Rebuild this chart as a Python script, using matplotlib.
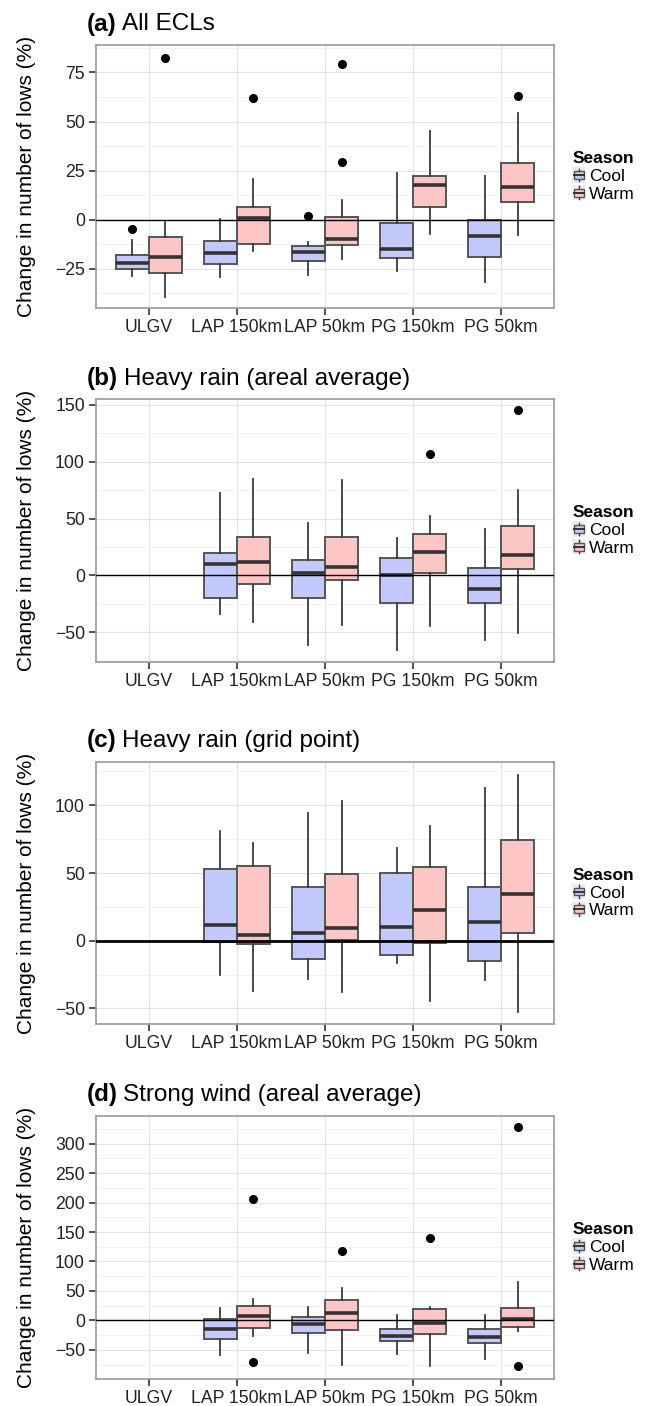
import matplotlib
matplotlib.use('Agg')
import matplotlib.pyplot as plt
from matplotlib.legend_handler import HandlerBase
from matplotlib.patches import Rectangle, Patch
from matplotlib.lines import Line2D
from matplotlib.ticker import MultipleLocator

plt.rcParams['font.family'] = ['Liberation Sans', 'DejaVu Sans']

categories = ['ULGV', 'LAP 150km', 'LAP 50km', 'PG 150km', 'PG 50km']
seasons = ['Cool', 'Warm']

# (whisker low, Q1, median, Q3, whisker high) per category, None = no data
a_cool = [(-28.7, -25.3, -22.3, -17.9, -10.2), (-29.1, -22.6, -17.0, -10.7, 0.3),
          (-28.0, -20.9, -16.7, -13.6, -11.6), (-26.0, -19.6, -15.0, -1.9, 23.6),
          (-31.6, -18.9, -8.2, 0.0, 22.4)]
a_warm = [(-39.3, -27.4, -19.2, -9.0, -1.4), (-15.8, -12.2, 0.9, 6.6, 20.7),
          (-20.0, -13.1, -9.7, 1.2, 10.0), (-7.3, 6.3, 17.9, 22.1, 45.0),
          (-7.7, 9.0, 16.5, 28.7, 54.2)]
a_cool_out = [[-4.6], [], [2.0], [], []]
a_warm_out = [[82.5], [62.0], [79.4, 29.4], [], [62.9]]

b_cool = [None, (-33.5, -19.7, 9.7, 20.0, 72.4), (-60.9, -19.7, 2.4, 13.2, 46.5),
          (-65.3, -24.1, 0.6, 15.0, 32.9), (-57.0, -24.4, -12.1, 6.2, 41.2)]
b_warm = [None, (-40.9, -7.1, 11.8, 33.5, 84.7), (-43.8, -4.4, 7.6, 33.5, 83.5),
          (-44.7, 2.6, 20.6, 36.8, 51.8), (-50.3, 5.3, 17.6, 43.8, 75.3)]
b_cool_out = [[], [], [], [], []]
b_warm_out = [[], [], [], [106.5], [145.3]]

c_cool = [None, (-25.1, -1.2, 11.8, 52.9, 80.7), (-28.0, -13.8, 5.7, 39.6, 94.7),
          (-16.2, -10.3, 9.8, 49.9, 68.8), (-29.3, -14.8, 13.5, 39.8, 112.6)]
c_warm = [None, (-36.9, -2.5, 3.9, 55.3, 72.0), (-37.6, 0.7, 9.3, 49.4, 103.0),
          (-44.8, -1.5, 22.4, 54.1, 85.0), (-52.9, 5.9, 34.2, 74.3, 122.7)]
c_cool_out = [[], [], [], [], []]
c_warm_out = [[], [], [], [], []]

d_cool = [None, (-58.8, -31.7, -15.3, 1.7, 20.4), (-54.9, -20.9, -6.8, 6.2, 22.1),
          (-57.7, -35.6, -26.6, -14.1, 8.5), (-66.2, -39.0, -28.8, -14.1, 9.6)]
d_warm = [None, (-26.6, -13.6, 7.4, 24.3, 36.2), (-75.8, -17.0, 13.0, 34.5, 54.3),
          (-77.5, -22.6, -4.0, 18.7, 22.1), (-17.5, -10.7, 1.7, 20.4, 65.6)]
d_cool_out = [[], [], [], [], []]
d_warm_out = [[], [206.4, -71.3], [117.1], [140.3], [328.3, -77.0]]

titles = [('(a)', 'All ECLs'), ('(b)', 'Heavy rain (areal average)'),
          ('(c)', 'Heavy rain (grid point)'), ('(d)', 'Strong wind (areal average)')]
yticks = [[-25, 0, 25, 50, 75], [-50, 0, 50, 100, 150],
          [-50, 0, 50, 100], [-50, 0, 50, 100, 150, 200, 250, 300]]
ylims = [(-45, 89), (-76, 155), (-61.5, 132), (-99.5, 347)]

COOL = '#c3c8fd'
WARM = '#fec5c5'
W, H = 646, 1406
rows = [(45, 308), (399, 662), (762, 1024), (1116, 1379)]
LEFT, RIGHT = 96, 554


class BoxKey(HandlerBase):
    def create_artists(self, legend, orig_handle, xdescent, ydescent,
                       width, height, fontsize, trans):
        x0, y0 = -xdescent, -ydescent
        bg = Rectangle((x0, y0), width, height, fc='#ececec', ec='none',
                       transform=trans)
        cx = x0 + width / 2
        wl = Line2D([cx, cx], [y0 + 1, y0 + height - 1], color='#333333',
                    lw=1.0, transform=trans)
        bx = Rectangle((x0 + width * 0.12, y0 + height * 0.25), width * 0.76,
                       height * 0.5, fc=orig_handle.get_facecolor(),
                       ec='#555555', lw=1.0, transform=trans)
        md = Line2D([x0 + width * 0.12, x0 + width * 0.88],
                    [y0 + height / 2] * 2, color='#333333', lw=1.4,
                    transform=trans)
        return [bg, wl, bx, md]


panels = [(a_cool, a_warm, a_cool_out, a_warm_out),
          (b_cool, b_warm, b_cool_out, b_warm_out),
          (c_cool, c_warm, c_cool_out, c_warm_out),
          (d_cool, d_warm, d_cool_out, d_warm_out)]

fig = plt.figure(figsize=(W / 100, H / 100), dpi=100)

for k, (cool, warm, cool_out, warm_out) in enumerate(panels):
    top, bot = rows[k]
    ax = fig.add_axes([LEFT / W, 1 - bot / H, (RIGHT - LEFT) / W, (bot - top) / H])
    for data, outs, off, col in [(cool, cool_out, -0.1875, COOL),
                                 (warm, warm_out, 0.1875, WARM)]:
        stats, pos = [], []
        for i, s in enumerate(data):
            if s is None:
                continue
            lo, q1, med, q3, hi = s
            stats.append(dict(whislo=lo, q1=q1, med=med, q3=q3, whishi=hi,
                              fliers=outs[i]))
            pos.append(i + 1 + off)
        ax.bxp(stats, positions=pos, widths=0.375, patch_artist=True,
               showcaps=False, manage_ticks=False,
               boxprops=dict(facecolor=col, edgecolor='#555555', lw=1.4),
               medianprops=dict(color='#333333', lw=2.6),
               whiskerprops=dict(color='#3a3a3a', lw=1.3),
               flierprops=dict(marker='o', markerfacecolor='black',
                               markeredgecolor='black', markersize=5.5))
    ax.axhline(0, color='black', lw=2.0 if k == 2 else 1.0, zorder=6)

    ax.set_xlim(0.4, 5.6)
    ax.set_ylim(*ylims[k])
    ax.set_xticks(range(1, 6), categories)
    ax.set_yticks(yticks[k])
    step = yticks[k][1] - yticks[k][0]
    ax.yaxis.set_minor_locator(MultipleLocator(step / 2))
    ax.tick_params(which='major', length=5, width=1.2, color='#333333',
                   labelsize=12.7, labelcolor='#222222', pad=3)
    ax.tick_params(which='minor', length=0)
    ax.grid(which='major', color='#e3e3e3', lw=0.8)
    ax.grid(which='minor', axis='y', color='#f2f2f2', lw=0.7)
    ax.set_axisbelow(True)
    for sp in ax.spines.values():
        sp.set_color('#9a9a9a')
        sp.set_linewidth(1.2)

    ax.text(-70 / (RIGHT - LEFT), 0.5, 'Change in number of lows (%)',
            rotation=90, ha='center', va='center', fontsize=15,
            transform=ax.transAxes)
    lab, ttl = titles[k]
    t = ax.text(-0.02, 1 + 14.5 / (bot - top), lab, fontsize=17.5,
                weight='bold', ha='left', va='baseline', transform=ax.transAxes)
    ax.annotate(ttl, xy=(1, 0), xycoords=t, xytext=(4, 0),
                textcoords='offset points', fontsize=17.5, ha='left', va='bottom')

    ax.legend(handles=[Patch(facecolor=COOL), Patch(facecolor=WARM)],
              labels=seasons, title='Season', handler_map={Patch: BoxKey()},
              loc='center left', bbox_to_anchor=(1.04, 0.5), frameon=False,
              fontsize=12.5, title_fontproperties={'weight': 'bold', 'size': 12.5},
              handlelength=0.75, handleheight=1.0, handletextpad=0.2,
              labelspacing=0.05, borderaxespad=0, borderpad=0,
              alignment='left')

fig.savefig('out.png', dpi=100, facecolor='white')
